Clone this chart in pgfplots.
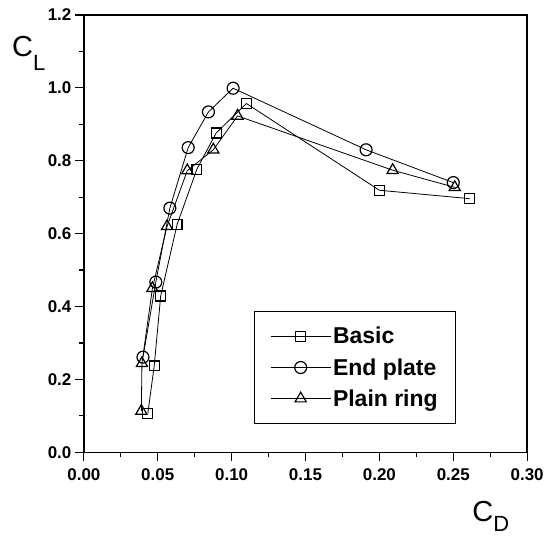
\documentclass[border=0pt]{standalone}
\usepackage{fontspec}
\setmainfont{Liberation Sans}
\usepackage{pgfplots}
\pgfplotsset{compat=1.18}

\pgfplotsset{
  liftmark/.style={mark options={solid, fill=white, line width=1.2pt}},
}

\begin{document}
\begin{tikzpicture}
\begin{axis}[
  name=main,
  scale only axis,
  width=444pt, height=438pt,
  xmin=0, xmax=0.30, ymin=0, ymax=1.2,
  xtick={0,0.05,0.10,0.15,0.20,0.25,0.30},
  ytick={0,0.2,0.4,0.6,0.8,1.0,1.2},
  minor tick num=1,
  tick pos=left,
  tick align=outside,
  major tick length=9pt,
  minor tick length=5pt,
  axis line style={line width=1.5pt},
  every tick/.style={line width=1.2pt, black},
  tick label style={font=\fontsize{17}{17}\selectfont\bfseries},
  xticklabel style={yshift=-4pt, /pgf/number format/fixed, /pgf/number format/fixed zerofill,
    /pgf/number format/precision=2, /pgf/number format/assume math mode=true},
  yticklabel style={/pgf/number format/fixed, /pgf/number format/fixed zerofill,
    /pgf/number format/precision=1, /pgf/number format/assume math mode=true},
  scaled ticks=false,
  legend style={
    at={(0.840,0.064)}, anchor=south east,
    draw=black, line width=1.2pt,
    font=\fontsize{23}{26}\selectfont\bfseries,
    inner xsep=16pt, inner ysep=14pt,
    row sep=9pt,
    cells={anchor=west},
  },
  legend image code/.code={
    \draw[mark repeat=2, mark phase=2, line width=0.8pt]
      plot coordinates {(0pt,0pt) (30pt,0pt) (60pt,0pt)};
  },
  clip=false,
]
\addplot[black, line width=0.8pt, mark=square, mark size=5pt, liftmark] coordinates {
  (0.0433,0.107) (0.0476,0.237) (0.0520,0.429) (0.0631,0.625)
  (0.0765,0.777) (0.0895,0.876) (0.1100,0.957) (0.2000,0.719)
  (0.2610,0.696)
};
\addlegendentry{Basic}
\addplot[black, line width=0.8pt, mark=o, mark size=6pt, liftmark] coordinates {
  (0.0400,0.261) (0.0487,0.467) (0.0582,0.670) (0.0706,0.836)
  (0.0843,0.934) (0.1010,0.999) (0.1910,0.830) (0.2500,0.740)
};
\addlegendentry{End plate}
\addplot[black, line width=0.8pt, mark=triangle, mark size=6.5pt, liftmark] coordinates {
  (0.0389,0.113) (0.0393,0.244) (0.0464,0.450) (0.0563,0.620)
  (0.0700,0.773) (0.0876,0.830) (0.1040,0.923) (0.2090,0.774)
  (0.2510,0.727)
};
\addlegendentry{Plain ring}
\end{axis}

% axis titles
\node[anchor=base west, inner sep=0pt, font=\fontsize{29}{29}\selectfont]
  at ([xshift=-72pt, yshift=396pt]main.south west) {C\raisebox{-14pt}{\fontsize{22}{22}\selectfont L}};
\node[anchor=base west, inner sep=0pt, font=\fontsize{29}{29}\selectfont]
  at ([xshift=389pt, yshift=-69pt]main.south west) {C\raisebox{-10pt}{\fontsize{22}{22}\selectfont D}};

% fix the picture to the reference frame
\path[use as bounding box] ([xshift=-84pt, yshift=-87pt]main.south west) rectangle ([xshift=463pt, yshift=453pt]main.south west);
\end{tikzpicture}
\end{document}
